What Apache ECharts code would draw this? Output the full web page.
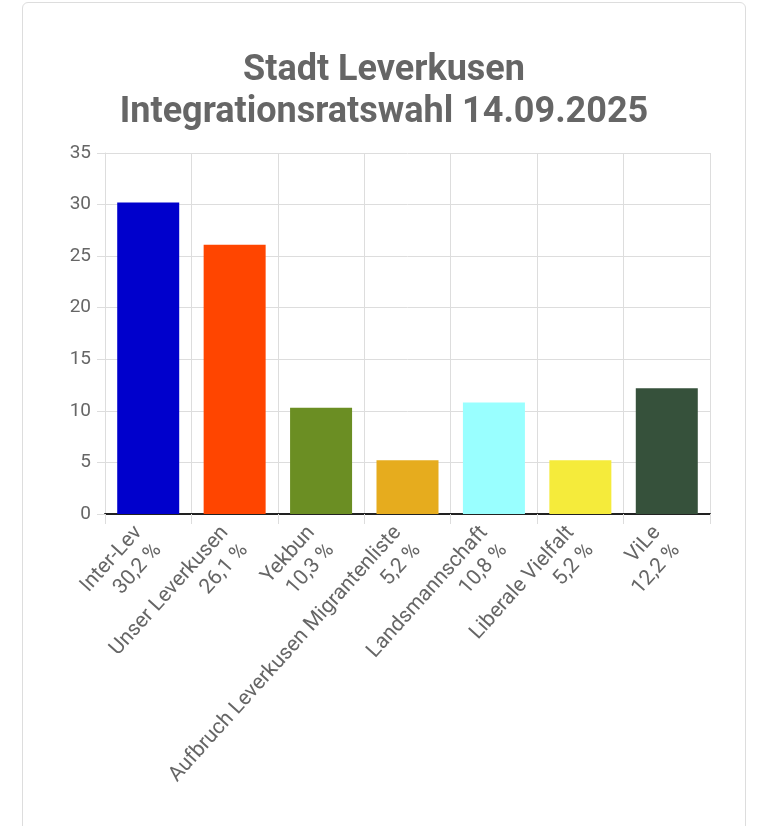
<!DOCTYPE html>
<html><head><meta charset="utf-8">
<script src="https://cdn.jsdelivr.net/npm/echarts@6/dist/echarts.min.js"></script>
<style>
html,body{margin:0;padding:0;background:#fff;}
#card{position:absolute;left:22px;top:2px;width:722px;height:840px;border:1px solid #ddd;border-radius:6px;}
#c{position:absolute;left:0;top:0;width:768px;height:826px;}
</style></head><body>
<div id="card"></div>
<div id="c"></div>
<script>
const categories=["Inter-Lev","Unser Leverkusen","Yekbun","Aufbruch Leverkusen Migrantenliste","Landsmannschaft","Liberale Vielfalt","ViLe"];
const values=[30.2,26.1,10.3,5.2,10.8,5.2,12.2];
const colors=["#0000cc","#ff4500","#6b8e23","#e6ac1e","#99ffff","#f5eb3b","#36513b"];
const yTicks=[0,5,10,15,20,25,30,35];
const chart=echarts.init(document.getElementById('c'));
chart.setOption({
  animation:false,
  title:{text:"Stadt Leverkusen\nIntegrationsratswahl 14.09.2025",left:'center',top:45,
    textStyle:{fontFamily:'Roboto',fontSize:36,fontWeight:'bold',color:'#666',lineHeight:42}},
  grid:{left:105,right:58,top:153,bottom:312,containLabel:false},
  xAxis:{type:'category',data:categories,
    axisLine:{lineStyle:{color:'#222',width:2}},
    axisTick:{show:true,length:10,lineStyle:{color:'#ddd'}},
    splitLine:{show:true,lineStyle:{color:'#ddd'}},
    axisLabel:{interval:0,rotate:48,fontFamily:'Roboto',fontSize:21,color:'#666',align:'right',lineHeight:26,margin:24,
      padding:[14,0,0,0],
      formatter:(v,i)=>v+"\n"+String(values[i]).replace('.',',')+" %"}},
  yAxis:{type:'value',min:0,max:35,interval:5,
    axisLine:{show:true,lineStyle:{color:'#ddd'}},
    axisTick:{show:true,length:8,lineStyle:{color:'#ddd'}},
    splitLine:{lineStyle:{color:'#ddd'}},
    axisLabel:{fontFamily:'Roboto',fontSize:19,color:'#666',margin:14}},
  series:[{type:'bar',barWidth:62,
    data:values.map((v,i)=>({value:v,itemStyle:{color:colors[i]}}))}]
});
</script></body></html>
